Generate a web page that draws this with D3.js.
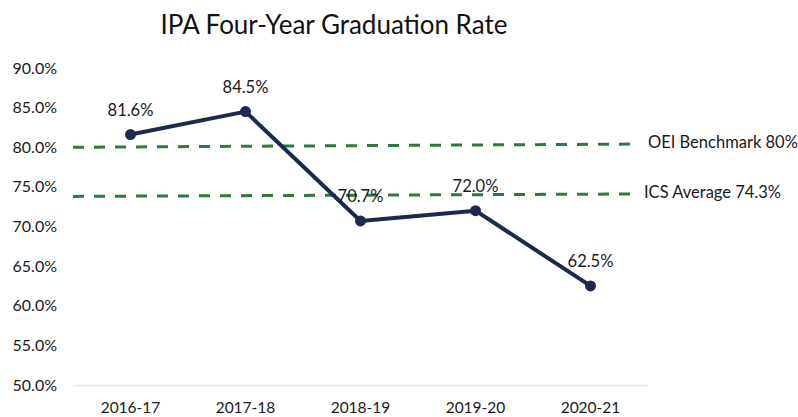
<!DOCTYPE html>
<html>
<head>
<meta charset="utf-8">
<script src="https://cdn.jsdelivr.net/npm/d3@7"></script>
<style>
  body { margin: 0; background: #fff; }
  svg { display: block; font-family: Lato, "Open Sans", sans-serif; }
</style>
</head>
<body>
<svg id="chart" width="798" height="417"></svg>
<script>
const years = ["2016-17", "2017-18", "2018-19", "2019-20", "2020-21"];
const rates = [81.6, 84.5, 70.7, 72.0, 62.5];
const yTicks = [50, 55, 60, 65, 70, 75, 80, 85, 90];

// reference lines, drawn slightly sloped as in the picture
const refNames = ["OEI Benchmark 80%", "ICS Average 74.3%"];
const refStart = [80.0, 73.8];
const refEnd = [80.4, 74.1];

const svg = d3.select("#chart");
const plotLeft = 73, plotRight = 648, plotTop = 68, plotBottom = 385;

const x = d3.scalePoint().domain(years).range([plotLeft, plotRight]).padding(0.5);
const y = d3.scaleLinear().domain([50, 90]).range([plotBottom, plotTop]);

svg.append("text")
    .attr("x", 334).attr("y", 34)
    .attr("text-anchor", "middle")
    .style("font-size", "26px")
    .style("fill", "#111")
    .text("IPA Four-Year Graduation Rate");

// y tick labels
svg.append("g").selectAll("text").data(yTicks).enter()
    .append("text")
    .attr("x", 57)
    .attr("y", d => y(d))
    .attr("dy", "0.35em")
    .attr("text-anchor", "end")
    .style("font-size", "16px")
    .style("fill", "#1a1a1a")
    .text(d => d.toFixed(1) + "%");

// x axis baseline
svg.append("line")
    .attr("x1", plotLeft).attr("x2", plotRight)
    .attr("y1", y(50) + 0.5).attr("y2", y(50) + 0.5)
    .style("stroke", "#e3e3e3").style("stroke-width", 1.5);

svg.append("g").selectAll("text").data(years).enter()
    .append("text")
    .attr("x", d => x(d))
    .attr("y", 413)
    .attr("text-anchor", "middle")
    .style("font-size", "15.5px")
    .style("fill", "#1a1a1a")
    .text(d => d);

// dashed reference lines
const refEndX = 632;
const refs = svg.append("g").selectAll("g").data(refNames).enter().append("g");
refs.append("line")
    .attr("x1", plotLeft).attr("x2", refEndX)
    .attr("y1", (d, i) => y(refStart[i]))
    .attr("y2", (d, i) => y(refEnd[i]))
    .style("stroke", "#2e7a3c")
    .style("stroke-width", 3)
    .style("stroke-dasharray", "11,10");
refs.append("text")
    .attr("x", (d, i) => i === 0 ? 648 : 644)
    .attr("y", (d, i) => y(refEnd[i]) - 2)
    .attr("dy", "0.35em")
    .style("font-size", "16.5px")
    .style("fill", "#1a1a1a")
    .text(d => d);

// series line
const pts = years.map((d, i) => [x(d), y(rates[i])]);
svg.append("path")
    .attr("d", d3.line()(pts))
    .style("fill", "none")
    .style("stroke", "#1b2a4e")
    .style("stroke-width", 4)
    .style("stroke-linejoin", "round");

svg.append("g").selectAll("circle").data(rates).enter()
    .append("circle")
    .attr("cx", (d, i) => x(years[i]))
    .attr("cy", d => y(d))
    .attr("r", 5.5)
    .style("fill", "#1b2a4e");

svg.append("g").selectAll("text").data(rates).enter()
    .append("text")
    .attr("x", (d, i) => x(years[i]))
    .attr("y", d => y(d) - 19)
    .attr("text-anchor", "middle")
    .style("font-size", "16.5px")
    .style("fill", "#1a1a1a")
    .text(d => d.toFixed(1) + "%");
</script>
</body>
</html>
